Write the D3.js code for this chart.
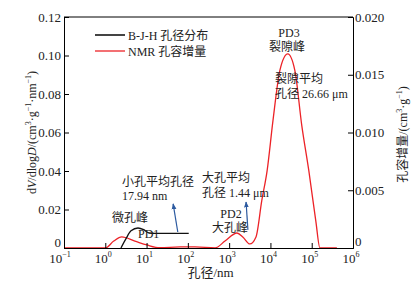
<!DOCTYPE html>
<html>
<head>
<meta charset="utf-8">
<script src="https://cdn.jsdelivr.net/npm/d3@7"></script>
<style>
body { margin: 0; background: #fff; }
text { font-family: "Liberation Serif", "Noto Sans CJK SC", serif; fill: #222; }
</style>
</head>
<body>
<div id="chart"></div>
<script>
var width = 416, height = 283;
var margin = {top: 17, right: 63, bottom: 35, left: 64};

// B-J-H pore size distribution (left axis), pore diameter in nm
var bjhD = [2.4, 3.2, 4.2, 6.2, 8.5, 11.5, 16, 105];
var bjhV = [0, 0.005, 0.0089, 0.0104, 0.0095, 0.0078, 0.0076, 0.0076];

// NMR pore volume increment (right axis)
var nmrD = [0.1, 1, 1.6, 2.5, 5.2, 10.2, 21, 65, 148, 457, 794, 1550, 2140, 3160, 4470, 6170, 8320, 11500, 17000, 26300, 38900, 57500, 85100, 126000, 158000, 407000];
var nmrV = [0, 0, 0.0006, 0.00096, 0.0006, 0.00026, 0.00002, 0.00009, 0.00009, 0.00001, 0.0006, 0.0013, 0.00096, 0.00035, 0.00096, 0.0041, 0.0067, 0.011, 0.0154, 0.0168, 0.0154, 0.0106, 0.0067, 0.0023, 0, 0];

var xExps = [-1, 0, 1, 2, 3, 4, 5, 6];
var leftTicks = [0, 0.02, 0.04, 0.06, 0.08, 0.10, 0.12];
var leftLabels = ["0", "0.02", "0.04", "0.06", "0.08", "0.10", "0.12"];
var rightTicks = [0, 0.005, 0.010, 0.015, 0.020];
var rightLabels = ["0", "0.005", "0.010", "0.015", "0.020"];

var svg = d3.select("#chart").append("svg")
	.attr("width", width).attr("height", height);

var x = d3.scaleLog().domain([0.1, 1e6]).range([margin.left, width - margin.right]);
var yL = d3.scaleLinear().domain([0, 0.12]).range([height - margin.bottom, margin.top]);
var yR = d3.scaleLinear().domain([0, 0.02]).range([height - margin.bottom, margin.top]);

var x0 = margin.left, x1 = width - margin.right, y0 = height - margin.bottom, y1 = margin.top;

// curves
var lineL = d3.line().x(d => x(d[0])).y(d => yL(d[1])).curve(d3.curveMonotoneX);
var lineR = d3.line().x(d => x(d[0])).y(d => yR(d[1])).curve(d3.curveMonotoneX);

svg.append("path")
	.datum(d3.zip(nmrD, nmrV))
	.attr("d", lineR)
	.attr("fill", "none").attr("stroke", "#ec2227").attr("stroke-width", 1.3);

svg.append("path")
	.datum(d3.zip(bjhD, bjhV))
	.attr("d", lineL)
	.attr("fill", "none").attr("stroke", "#111").attr("stroke-width", 1.3);

// axes
var xAxis = d3.axisBottom(x).tickValues(xExps.map(e => Math.pow(10, e))).tickSize(-5).tickFormat("");
svg.append("g").attr("transform", `translate(0,${y0})`).call(xAxis);

var xl = svg.append("g").selectAll("text").data(xExps).join("text")
	.attr("x", e => x(Math.pow(10, e)) - (e < 0 ? 4 : 2))
	.attr("y", y0 + 15)
	.attr("text-anchor", "middle")
	.attr("font-size", 13);
xl.append("tspan").text("10");
xl.append("tspan").attr("dy", -6).attr("font-size", 8).text(e => e < 0 ? "\u2212" + (-e) : e);

svg.append("g").attr("transform", `translate(${x0},0)`)
	.call(d3.axisLeft(yL).tickValues(leftTicks).tickSize(-5).tickPadding(3).tickFormat((d, i) => leftLabels[i]))
	.call(g => g.selectAll("text").attr("font-size", 13).attr("font-family", null)
		.attr("dy", (d, i) => i == 0 ? "-0.1em" : "0.32em"));

svg.append("g").attr("transform", `translate(${x1},0)`)
	.call(d3.axisRight(yR).tickValues(rightTicks).tickSize(-5).tickPadding(2).tickFormat((d, i) => rightLabels[i]))
	.call(g => g.selectAll("text").attr("font-size", 13).attr("font-family", null)
		.attr("dy", (d, i) => i == 0 ? "-0.2em" : "0.32em"));

svg.append("line").attr("x1", x0).attr("x2", x1).attr("y1", y1).attr("y2", y1).attr("stroke", "#000");
svg.selectAll(".domain").attr("stroke", "#000");
svg.selectAll(".tick line").attr("stroke", "#000");

// axis titles
svg.append("text").attr("x", (x0 + x1) / 2 + 2).attr("y", 277).attr("text-anchor", "middle")
	.attr("font-size", 13).text("孔径/nm");

var lt = svg.append("text").attr("transform", `translate(36,${(y0 + y1) / 2}) rotate(-90)`)
	.attr("text-anchor", "middle").attr("font-size", 12);
lt.append("tspan").text("d");
lt.append("tspan").attr("font-style", "italic").text("V");
lt.append("tspan").text("/dlog");
lt.append("tspan").attr("font-style", "italic").text("D");
lt.append("tspan").text("/(cm");
lt.append("tspan").attr("dy", -5).attr("font-size", 8).text("3");
lt.append("tspan").attr("dy", 5).text("·g");
lt.append("tspan").attr("dy", -5).attr("font-size", 8).text("−1");
lt.append("tspan").attr("dy", 5).text("·nm");
lt.append("tspan").attr("dy", -5).attr("font-size", 8).text("−1");
lt.append("tspan").attr("dy", 5).text(")");

var rt = svg.append("text").attr("transform", `translate(407,${(y0 + y1) / 2 + 2}) rotate(-90)`)
	.attr("text-anchor", "middle").attr("font-size", 12);
rt.append("tspan").text("孔容增量/(cm");
rt.append("tspan").attr("dy", -5).attr("font-size", 8).text("3");
rt.append("tspan").attr("dy", 5).text("·g");
rt.append("tspan").attr("dy", -5).attr("font-size", 8).text("−1");
rt.append("tspan").attr("dy", 5).text(")");

// legend
var legend = [["B-J-H 孔径分布", "#444", 2], ["NMR 孔容增量", "#ec2227", 1.3]];
legend.forEach(function (l, i) {
	var ly = 35 + i * 16;
	svg.append("line").attr("x1", 95).attr("x2", 125).attr("y1", ly).attr("y2", ly)
		.attr("stroke", l[1]).attr("stroke-width", l[2]);
	svg.append("text").attr("x", 128).attr("y", ly + 4.5).attr("font-size", 12).text(l[0]);
});

// annotations
var notes = [
	["PD3", 289, 37, "middle"], ["裂隙峰", 287, 51, "middle"],
	["裂隙平均", 275, 83, "start"], ["孔径 26.66 μm", 275, 98, "start"],
	["小孔平均孔径", 122, 186, "start"], ["17.94 nm", 122, 200, "start"],
	["大孔平均", 202, 182, "start"], ["孔径 1.44 μm", 202, 197, "start"],
	["PD2", 231, 218, "middle"], ["大孔峰", 230, 232, "middle"],
	["微孔峰", 112, 222, "start"], ["PD1", 138, 238, "start"]
];
svg.append("g").selectAll("text").data(notes).join("text")
	.attr("x", d => d[1]).attr("y", d => d[2]).attr("text-anchor", d => d[3])
	.attr("font-size", 12).text(d => d[0]);

// arrows (pore diameter nm, left-axis value)
var arrows = [[[57, 0.0083], [44, 0.0229]], [[2850, 0.0094], [2570, 0.0239]]];
svg.append("defs").append("marker").attr("id", "ah")
	.attr("viewBox", "0 0 10 10").attr("refX", 9).attr("refY", 5)
	.attr("markerWidth", 5).attr("markerHeight", 5).attr("orient", "auto")
	.append("path").attr("d", "M0,1L10,5L0,9Z").attr("fill", "#2c5aa0");
svg.append("g").selectAll("line").data(arrows).join("line")
	.attr("x1", d => x(d[0][0])).attr("y1", d => yL(d[0][1]))
	.attr("x2", d => x(d[1][0])).attr("y2", d => yL(d[1][1]))
	.attr("stroke", "#2c5aa0").attr("stroke-width", 1.2).attr("marker-end", "url(#ah)");
</script>
</body>
</html>
